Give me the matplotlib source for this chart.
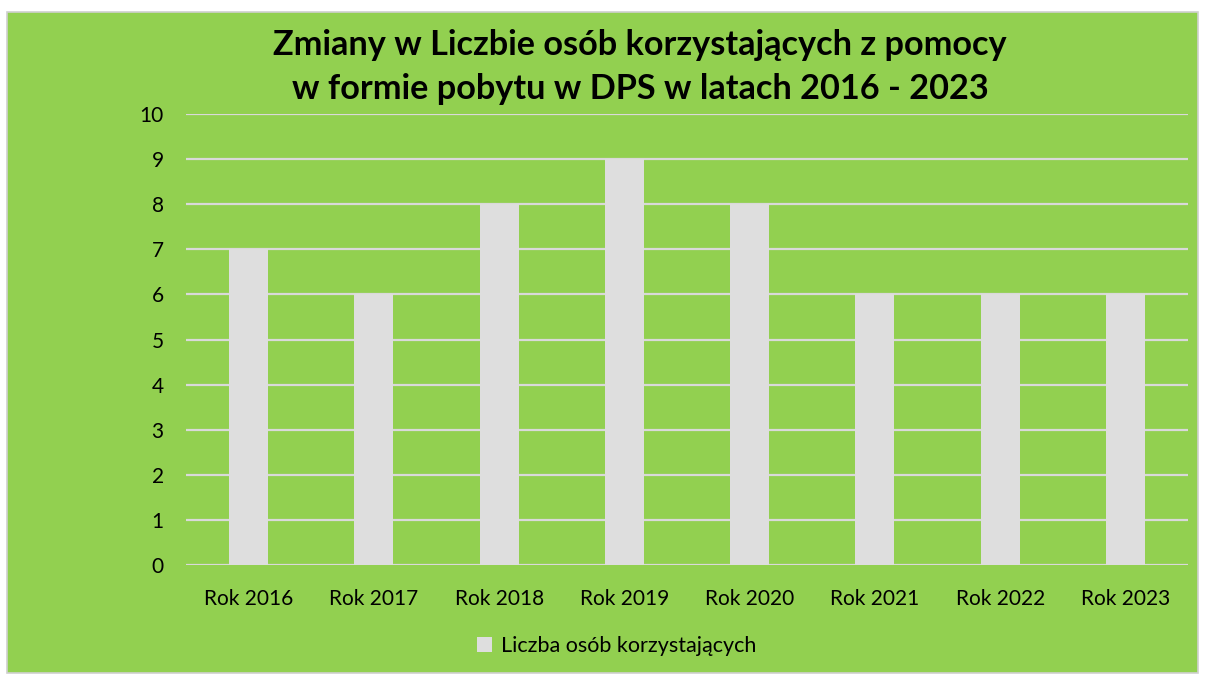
import matplotlib.pyplot as plt
import matplotlib.patches as mpatches

plt.rcParams['font.family'] = ['Lato', 'DejaVu Sans']

years = ['Rok 2016', 'Rok 2017', 'Rok 2018', 'Rok 2019',
         'Rok 2020', 'Rok 2021', 'Rok 2022', 'Rok 2023']
counts = [7, 6, 8, 9, 8, 6, 6, 6]
series_name = 'Liczba osób korzystających'

green = '#92D050'
bar_col = '#DEDEDE'
grid_col = '#D9D9D9'

fig = plt.figure(figsize=(12.06, 6.77), dpi=100)
fig.patch.set_facecolor('white')
# green chart area with thin grey frame
fig.patches.append(mpatches.Rectangle((7 / 1206, 1 - 673 / 677), 1191 / 1206, 661 / 677,
                                      transform=fig.transFigure, facecolor=green,
                                      edgecolor='#D0D0D0', linewidth=1.2, zorder=-10))

ax = fig.add_axes([186 / 1206, 1 - 565 / 677, 1002 / 1206, 451 / 677])
ax.patch.set_alpha(0)

x = range(len(years))
ax.bar(x, counts, width=0.31, color=bar_col, zorder=3, label=series_name)
ax.set_xlim(-0.5, len(years) - 0.5)
ax.set_ylim(0, 10)
ax.set_yticks(range(0, 11))
ax.set_xticks(list(x))
ax.set_xticklabels(years)
ax.yaxis.grid(True, color=grid_col, linewidth=1.6, zorder=1)
ax.set_axisbelow(True)
for s in ax.spines.values():
    s.set_visible(False)
ax.tick_params(axis='both', length=0, labelsize=15, colors='black')
ax.tick_params(axis='x', pad=17)
ax.tick_params(axis='y', pad=16)

fig.text(640 / 1206, 1 - 67 / 677, 'Zmiany w Liczbie osób korzystających z pomocy\nw formie pobytu w DPS w latach 2016 - 2023',
         ha='center', va='center', fontsize=24.7, fontweight='bold', linespacing=1.45)

ax.legend(loc='center', bbox_to_anchor=(0.43, (565 - 646) / 451), frameon=False,
          fontsize=15.5, handlelength=0.7, handleheight=0.7, handletextpad=0.4)

fig.savefig('out.png', dpi=100, facecolor='white')
